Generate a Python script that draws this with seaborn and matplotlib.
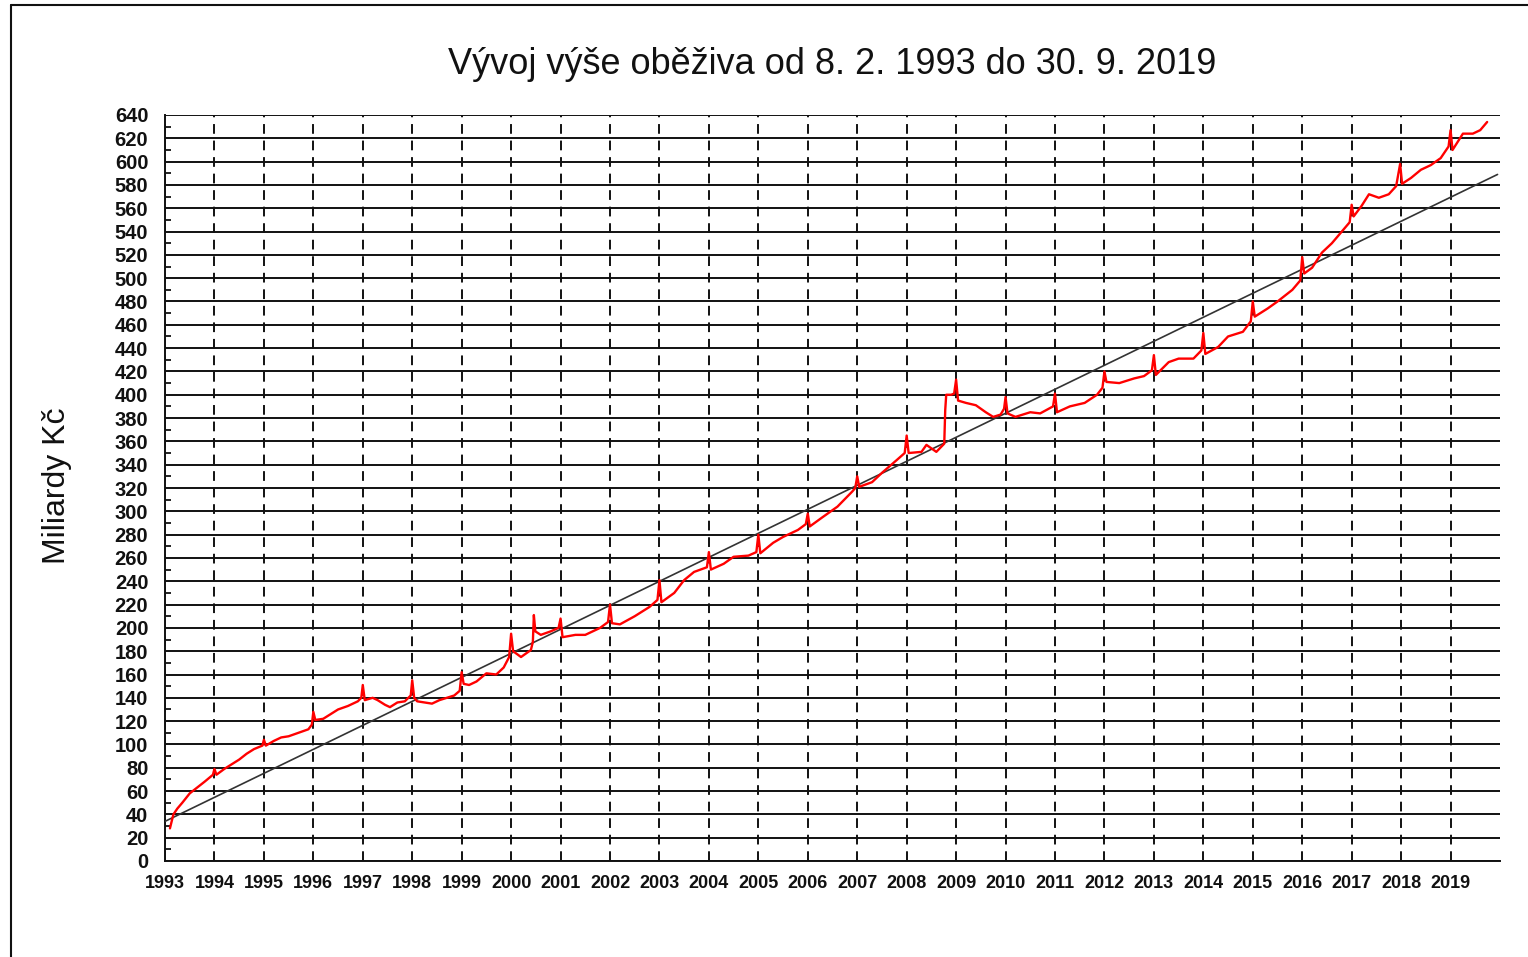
import matplotlib
matplotlib.use("Agg")
import matplotlib.pyplot as plt
from matplotlib.lines import Line2D
from matplotlib.ticker import MultipleLocator
import seaborn as sns
import pandas as pd

# ---- data ----
title = "Vývoj výše oběživa od 8. 2. 1993 do 30. 9. 2019"
ylabel = "Miliardy Kč"
year_ticks = list(range(1993, 2020))
y_ticks = list(range(0, 641, 20))

dates = [
    1993.10, 1993.13, 1993.17, 1993.25, 1993.35, 1993.50, 1993.65, 1993.80, 1993.97,
    1994.00, 1994.04, 1994.20, 1994.35, 1994.50, 1994.65, 1994.80, 1994.97,
    1995.00, 1995.04, 1995.20, 1995.35, 1995.50, 1995.70, 1995.90, 1995.97,
    1996.00, 1996.04, 1996.20, 1996.35, 1996.50, 1996.70, 1996.90, 1996.97,
    1997.00, 1997.04, 1997.20, 1997.30, 1997.45, 1997.55, 1997.70, 1997.85, 1997.97,
    1998.00, 1998.04, 1998.10, 1998.25, 1998.40, 1998.55, 1998.70, 1998.85, 1998.96,
    1999.00, 1999.04, 1999.15, 1999.30, 1999.50, 1999.70, 1999.85, 1999.96,
    2000.00, 2000.04, 2000.20, 2000.40, 2000.44, 2000.46, 2000.49, 2000.60, 2000.80, 2000.96,
    2001.00, 2001.04, 2001.30, 2001.50, 2001.80, 2001.96,
    2002.00, 2002.04, 2002.20, 2002.50, 2002.80, 2002.96,
    2003.00, 2003.04, 2003.30, 2003.50, 2003.70, 2003.96,
    2004.00, 2004.04, 2004.30, 2004.50, 2004.80, 2004.96,
    2005.00, 2005.04, 2005.30, 2005.50, 2005.80, 2005.96,
    2006.00, 2006.04, 2006.30, 2006.60, 2006.90, 2006.96,
    2007.00, 2007.04, 2007.30, 2007.50, 2007.80, 2007.96,
    2008.00, 2008.04, 2008.30, 2008.40, 2008.60, 2008.76, 2008.78, 2008.80, 2008.90, 2008.96,
    2009.00, 2009.04, 2009.20, 2009.40, 2009.60, 2009.75, 2009.90, 2009.97,
    2010.00, 2010.04, 2010.20, 2010.50, 2010.70, 2010.96,
    2011.00, 2011.04, 2011.30, 2011.60, 2011.85, 2011.96,
    2012.00, 2012.04, 2012.30, 2012.60, 2012.80, 2012.96,
    2013.00, 2013.04, 2013.30, 2013.50, 2013.80, 2013.96,
    2014.00, 2014.04, 2014.30, 2014.50, 2014.80, 2014.96,
    2015.00, 2015.04, 2015.30, 2015.50, 2015.80, 2015.96,
    2016.00, 2016.04, 2016.20, 2016.40, 2016.60, 2016.80, 2016.96,
    2017.00, 2017.04, 2017.20, 2017.35, 2017.55, 2017.75, 2017.90,
    2017.98, 2018.02, 2018.20, 2018.40, 2018.60, 2018.80, 2018.96,
    2019.00, 2019.04, 2019.10, 2019.25, 2019.45, 2019.60, 2019.74,
]
values = [
    28, 33, 40, 45, 50, 58, 63, 68, 74,
    79, 74, 79, 83, 87, 92, 96, 99,
    104, 99, 103, 106, 107, 110, 113, 117,
    128, 121, 122, 126, 130, 133, 137, 140,
    151, 138, 140, 138, 134, 132, 136, 137, 142,
    155, 140, 137, 136, 135, 138, 140, 142, 146,
    162, 152, 151, 154, 161, 160, 166, 175,
    195, 180, 175, 181, 188, 211, 197, 194, 197, 200,
    208, 192, 194, 194, 200, 205,
    220, 204, 203, 210, 218, 224,
    241, 222, 230, 241, 248, 252,
    265, 250, 255, 261, 262, 265,
    280, 264, 273, 278, 284, 289,
    298, 287, 295, 304, 317, 320,
    330, 321, 325, 333, 344, 350,
    365, 350, 351, 357, 351, 358, 387, 400, 400, 401,
    413, 395, 393, 391, 385, 381, 383, 388,
    398, 384, 381, 385, 384, 390,
    401, 385, 390, 393, 400, 406,
    420, 411, 410, 414, 416, 421,
    434, 417, 428, 431, 431, 438,
    453, 435, 441, 450, 454, 463,
    480, 467, 474, 480, 490, 498,
    518, 504, 509, 522, 530, 540, 548,
    563, 553, 562, 572, 569, 572, 579,
    598, 581, 586, 593, 597, 603, 613,
    627, 610, 614, 624, 624, 627, 634,
]
trend_dates = [1993.0, 2019.95]
trend_values = [34, 589]

df = pd.DataFrame({"date": dates, "value": values})
trend = pd.DataFrame({"date": trend_dates, "value": trend_values})

# ---- style ----
sns.set_style("white")
plt.rcParams["font.family"] = ["Liberation Sans", "DejaVu Sans"]

W, H = 1528, 957
fig = plt.figure(figsize=(W / 100, H / 100), dpi=100)
ax = fig.add_axes([165 / W, 1 - 861 / H, (1500 - 165) / W, (861 - 115) / H])

sns.lineplot(data=trend, x="date", y="value", ax=ax, color="#333333",
             linewidth=1.2, estimator=None, sort=False, zorder=4)
sns.lineplot(data=df, x="date", y="value", ax=ax, color="#ff0000",
             linewidth=1.7, estimator=None, sort=False, zorder=5)

ax.set_xlim(1993.0, 2020.0)
ax.set_ylim(0, 640)
ax.set_xticks(year_ticks)
ax.set_xticklabels([str(y) for y in year_ticks])
ax.set_yticks(y_ticks)
ax.set_yticklabels([str(v) for v in y_ticks])
ax.yaxis.set_minor_locator(MultipleLocator(10))

ax.set_xlabel("")
ax.set_ylabel("")

# grid: solid horizontal, dashed vertical
ax.grid(False)
ax.yaxis.grid(True, which="major", color="#111111", linewidth=1.4, linestyle="-")
ax.xaxis.grid(True, which="major", color="#111111", linewidth=1.4,
              linestyle=(0, (5, 3.5)))
ax.set_axisbelow(True)

for s in ["top", "right"]:
    ax.spines[s].set_visible(False)
for s in ["left", "bottom"]:
    ax.spines[s].set_visible(True)
    ax.spines[s].set_color("#111111")
    ax.spines[s].set_linewidth(1.4)

ax.tick_params(axis="y", which="major", direction="out", length=5, width=1.3,
               color="#111111", pad=7, labelsize=14.5)
ax.tick_params(axis="y", which="minor", direction="in", length=4, width=1.3,
               color="#111111", left=True)
ax.tick_params(axis="x", which="major", direction="out", length=4, width=1.3,
               color="#111111", pad=6, labelsize=13)
for lab in ax.get_xticklabels() + ax.get_yticklabels():
    lab.set_fontweight("bold")
    lab.set_color("#111111")

fig.text(832 / W, 1 - 65 / H, title, ha="center", va="center", fontsize=26,
         color="#111111")
fig.text(57 / W, 1 - 486 / H, ylabel, ha="center", va="center", rotation=90,
         fontsize=23, color="#111111")

# outer frame (left and top edges visible in the reference)
fig.add_artist(Line2D([11 / W, 11 / W], [0, 1 - 5 / H], transform=fig.transFigure,
                      color="#111111", linewidth=1.5))
fig.add_artist(Line2D([11 / W, 1], [1 - 5 / H, 1 - 5 / H], transform=fig.transFigure,
                      color="#111111", linewidth=1.5))

fig.savefig("out.png", dpi=100)
